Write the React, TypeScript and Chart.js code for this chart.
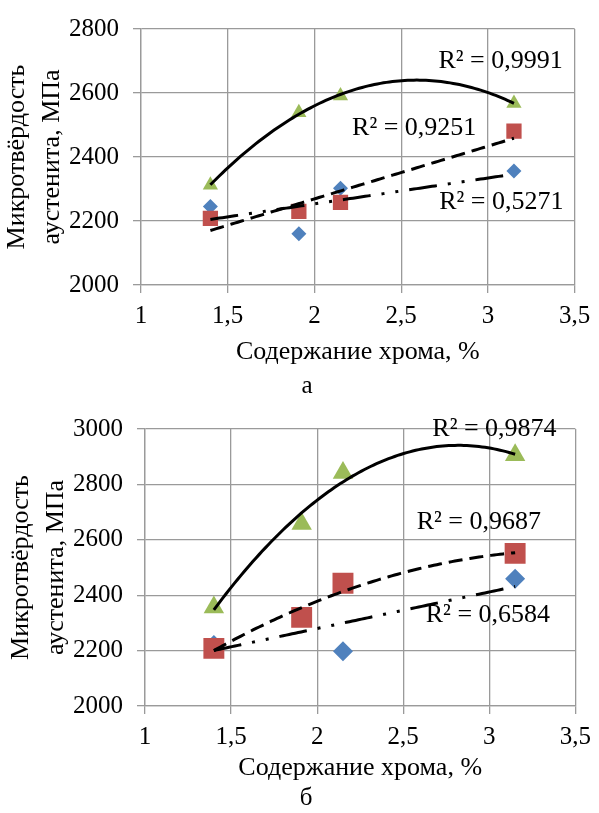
import React, { useEffect, useRef } from 'react';
import { Chart, registerables } from 'chart.js';

Chart.register(...registerables);

const FONT = '"Liberation Serif", "Times New Roman", serif';
Chart.defaults.font.family = FONT;
Chart.defaults.color = '#000';

// ---- shared ----
const xValues = [1.4, 1.91, 2.15, 3.15];
const xTickValues = [1, 1.5, 2, 2.5, 3, 3.5];
const xTickLabels = ['1', '1,5', '2', '2,5', '3', '3,5'];
const xAxisTitle = 'Содержание хрома, %';
const yAxisTitle = ['Микротвёрдость', 'аустенита, МПа'];
const seriesColors = ['#4F81BD', '#C0504D', '#9BBB59'];

// ---- chart а ----
const aBlue = [2245, 2160, 2302, 2356];
const aRed = [2208, 2230, 2258, 2481];
const aGreen = [2312, 2539, 2591, 2568];
const aYTicks = [2000, 2200, 2400, 2600, 2800];
const aR2 = ['R² = 0,5271', 'R² = 0,9251', 'R² = 0,9991'];
const aTrendDegree = [1, 1, 2];
const aCaption = 'а';

// ---- chart б ----
const bBlue = [2220, 2322, 2198, 2459];
const bRed = [2208, 2320, 2443, 2551];
const bGreen = [2356, 2658, 2842, 2906];
const bYTicks = [2000, 2200, 2400, 2600, 2800, 3000];
const bR2 = ['R² = 0,6584', 'R² = 0,9687', 'R² = 0,9874'];
const bTrendDegree = [1, 2, 2];
const bCaption = 'б';

// label anchor positions (axis units) – style
const aR2Pos = [[3.077, 2258], [2.575, 2489], [3.073, 2699]];
const bR2Pos = [[2.992, 2327], [2.939, 2665], [3.03, 2999]];

const TICK_SIZE = 25;
const TITLE_SIZE = 26;
const LABEL_SIZE = 26;

function polyfit(xs: number[], ys: number[], deg: number): number[] {
  const n = deg + 1;
  const A: number[][] = [];
  for (let r = 0; r < n; r++) {
    const row: number[] = [];
    for (let c = 0; c < n; c++) row.push(xs.reduce((s, x) => s + Math.pow(x, r + c), 0));
    row.push(xs.reduce((s, x, i) => s + ys[i] * Math.pow(x, r), 0));
    A.push(row);
  }
  for (let i = 0; i < n; i++) {
    let p = i;
    for (let k = i + 1; k < n; k++) if (Math.abs(A[k][i]) > Math.abs(A[p][i])) p = k;
    const t = A[i]; A[i] = A[p]; A[p] = t;
    for (let k = i + 1; k < n; k++) {
      const f = A[k][i] / A[i][i];
      for (let j = i; j <= n; j++) A[k][j] -= f * A[i][j];
    }
  }
  const coef = new Array(n).fill(0);
  for (let i = n - 1; i >= 0; i--) {
    let s = A[i][n];
    for (let j = i + 1; j < n; j++) s -= A[i][j] * coef[j];
    coef[i] = s / A[i][i];
  }
  return coef;
}

function trendPoints(xs: number[], ys: number[], deg: number) {
  const c = polyfit(xs, ys, deg);
  const lo = Math.min(...xs);
  const hi = Math.max(...xs);
  const pts: { x: number; y: number }[] = [];
  const N = 100;
  for (let i = 0; i <= N; i++) {
    const x = lo + ((hi - lo) * i) / N;
    let y = 0;
    for (let k = 0; k < c.length; k++) y += c[k] * Math.pow(x, k);
    pts.push({ x, y });
  }
  return pts;
}

interface PanelCfg {
  series: number[][];
  degrees: number[];
  r2: string[];
  r2Pos: number[][];
  yTicks: number[];
  caption: string;
  captionX: number;
  captionY: number;
  height: number;
  yWidth: number;
  xHeight: number;
  padTop: number;
  padRight: number;
  yTitlePad: number;
  xTitlePadBottom: number;
  xTickPad: number;
  markerSizes: number[];
}

const GRID = '#9a9a9a';
const dashes = [[28, 11, 3, 11, 3, 11], [14, 7], []];

function buildConfig(p: PanelCfg): any {
  const styles = ['rectRot', 'rect', 'triangle'];
  const scatterSets = p.series.map((ys, i) => ({
    type: 'scatter',
    data: xValues.map((x, j) => ({ x, y: ys[j] })),
    pointStyle: styles[i],
    pointRadius: p.markerSizes[i],
    pointBackgroundColor: seriesColors[i],
    pointBorderColor: seriesColors[i],
    pointBorderWidth: 0,
    showLine: false,
    order: 3 - i,
  }));
  const trendSets = p.series.map((ys, i) => ({
    type: 'scatter',
    data: trendPoints(xValues, ys, p.degrees[i]),
    showLine: true,
    pointRadius: 0,
    borderColor: '#000',
    borderWidth: 3,
    borderDash: dashes[i],
    borderCapStyle: 'butt',
    fill: false,
    tension: 0,
    order: 0,
  }));

  const labelPlugin = {
    id: 'r2labels',
    afterDraw(chart: any) {
      const { ctx, scales } = chart;
      ctx.save();
      ctx.font = `${LABEL_SIZE}px ${FONT}`;
      ctx.fillStyle = '#000';
      ctx.textAlign = 'center';
      ctx.textBaseline = 'middle';
      p.r2.forEach((t, i) => {
        const x = scales.x.getPixelForValue(p.r2Pos[i][0]);
        const y = scales.y.getPixelForValue(p.r2Pos[i][1]);
        ctx.fillText(t, x, y);
      });
      ctx.font = `${TICK_SIZE}px ${FONT}`;
      ctx.textBaseline = 'alphabetic';
      ctx.fillText(p.caption, p.captionX, p.captionY);
      ctx.restore();
    },
  };

  return {
    type: 'scatter',
    data: { datasets: [...trendSets, ...scatterSets] },
    plugins: [labelPlugin],
    options: {
      animation: false,
      responsive: false,
      maintainAspectRatio: false,
      events: [],
      layout: { padding: { left: 0, right: p.padRight, top: p.padTop, bottom: 0 } },
      plugins: { legend: { display: false }, tooltip: { enabled: false } },
      scales: {
        x: {
          type: 'linear',
          min: xTickValues[0],
          max: xTickValues[xTickValues.length - 1],
          ticks: {
            stepSize: 0.5,
            autoSkip: false,
            maxRotation: 0,
            padding: p.xTickPad,
            font: { size: TICK_SIZE },
            color: '#000',
            callback: (v: any) => {
              const i = xTickValues.indexOf(Number(v));
              return i >= 0 ? xTickLabels[i] : '';
            },
          },
          grid: { color: GRID, lineWidth: 1.3, tickLength: 8 },
          border: { color: GRID, width: 1.3 },
          title: {
            display: true,
            text: xAxisTitle,
            font: { size: TITLE_SIZE, lineHeight: 1.2 },
            color: '#000',
            padding: { top: 0, bottom: p.xTitlePadBottom },
          },
          afterFit: (s: any) => { s.height = p.xHeight; },
        },
        y: {
          type: 'linear',
          min: p.yTicks[0],
          max: p.yTicks[p.yTicks.length - 1],
          ticks: {
            stepSize: 200,
            padding: 14,
            font: { size: TICK_SIZE },
            color: '#000',
            callback: (v: any) => {
              const i = p.yTicks.indexOf(Number(v));
              return i >= 0 ? String(p.yTicks[i]) : '';
            },
          },
          grid: { color: GRID, lineWidth: 1.3, tickLength: 8 },
          border: { color: GRID, width: 1.3 },
          title: {
            display: true,
            text: yAxisTitle,
            font: { size: TITLE_SIZE, lineHeight: 1.346 },
            color: '#000',
            padding: { top: p.yTitlePad, bottom: 0 },
          },
          afterFit: (s: any) => { s.width = p.yWidth; },
        },
      },
    },
  };
}

const panelA: PanelCfg = {
  series: [aBlue, aRed, aGreen],
  degrees: aTrendDegree,
  r2: aR2,
  r2Pos: aR2Pos,
  yTicks: aYTicks,
  caption: aCaption,
  captionX: 307,
  captionY: 393,
  height: 400,
  yWidth: 141,
  xHeight: 115,
  padTop: 21.7,
  padRight: 19,
  yTitlePad: 0,
  xTitlePadBottom: 32.4,
  xTickPad: 8.7,
  markerSizes: [7.5, 10.8, 8.8],
};

const panelB: PanelCfg = {
  series: [bBlue, bRed, bGreen],
  degrees: bTrendDegree,
  r2: bR2,
  r2Pos: bR2Pos,
  yTicks: bYTicks,
  caption: bCaption,
  captionX: 306,
  captionY: 405,
  height: 413,
  yWidth: 145,
  xHeight: 107,
  padTop: 21.7,
  padRight: 20.7,
  yTitlePad: 4,
  xTitlePadBottom: 29.4,
  xTickPad: 8,
  markerSizes: [10, 14.8, 11.8],
};

function Panel({ cfg, top }: { cfg: PanelCfg; top: number }) {
  const ref = useRef<HTMLCanvasElement>(null);
  useEffect(() => {
    const chart = new Chart(ref.current as HTMLCanvasElement, buildConfig(cfg));
    return () => chart.destroy();
  }, []);
  return (
    <canvas
      ref={ref}
      width={599}
      height={cfg.height}
      style={{ position: 'absolute', left: 0, top, width: 599, height: cfg.height, display: 'block' }}
    />
  );
}

export default function App() {
  return (
    <div style={{ position: 'absolute', left: 0, top: 0, width: 599, height: 813, background: '#fff' }}>
      <Panel cfg={panelA} top={0} />
      <Panel cfg={panelB} top={400} />
    </div>
  );
}
